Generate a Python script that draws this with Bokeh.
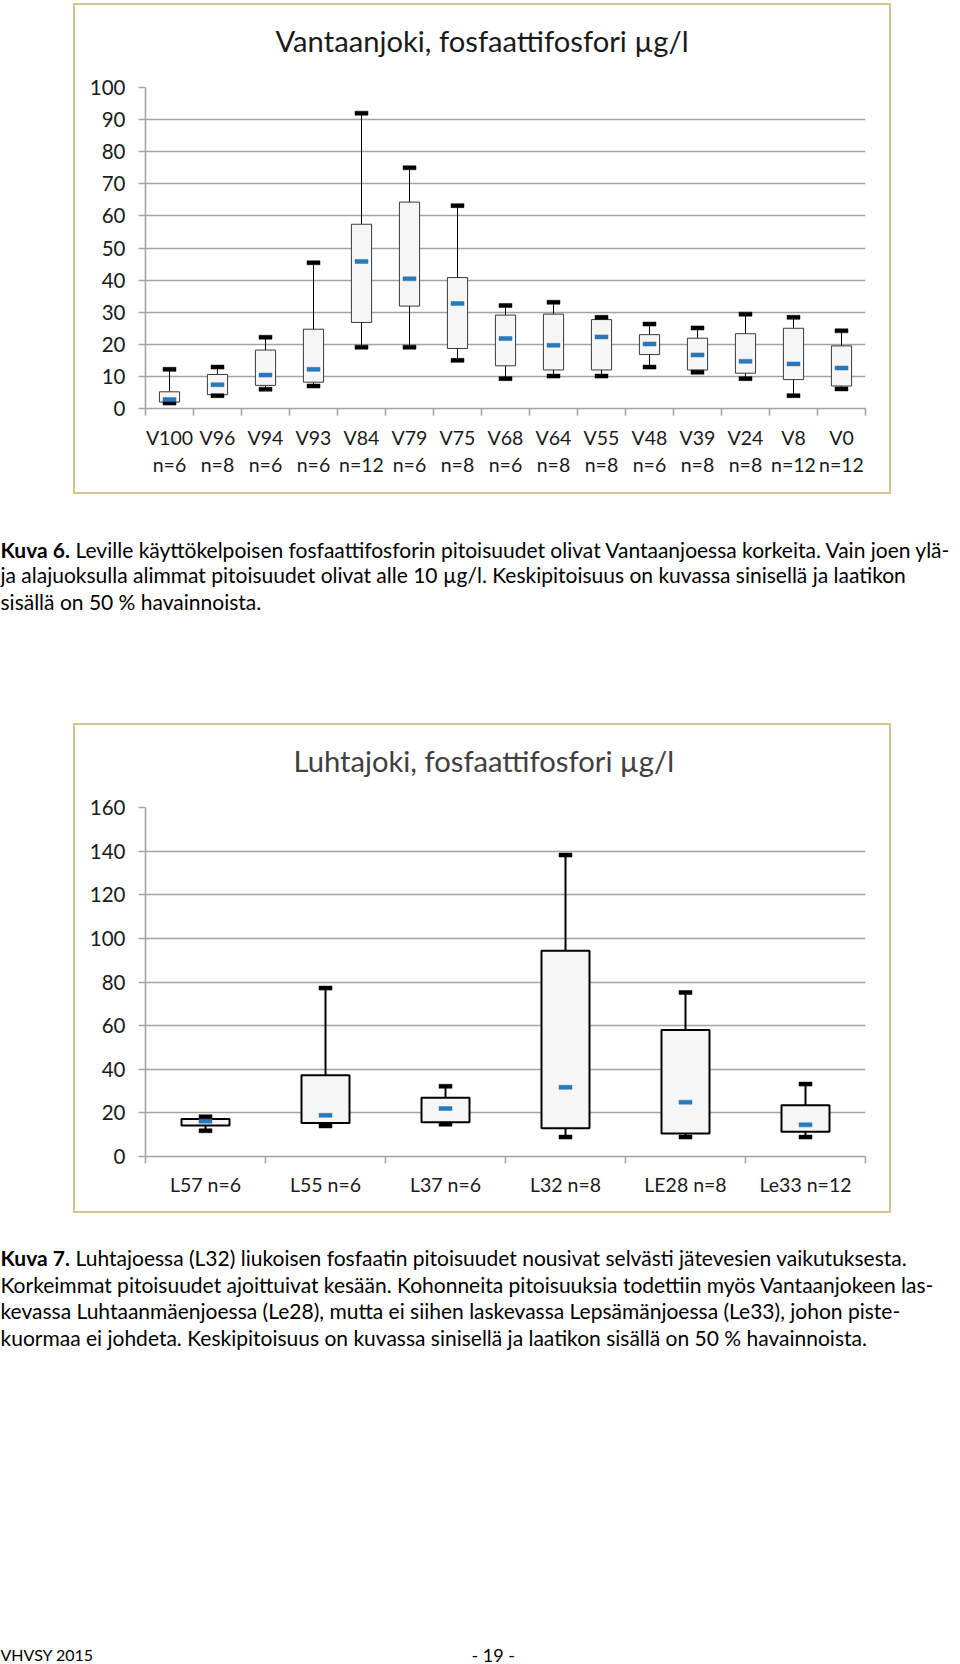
from bokeh.plotting import figure
from bokeh.models import Range1d, FixedTicker, ColumnDataSource, Spacer
from bokeh.layouts import column, row
from bokeh.core.properties import value
from bokeh.embed import file_html
from bokeh.resources import INLINE

FONT = "Lato"

# ---------------- data: Vantaanjoki ----------------
vantaa_sites = ["V100", "V96", "V94", "V93", "V84", "V79", "V75", "V68",
                "V64", "V55", "V48", "V39", "V24", "V8", "V0"]
vantaa_n = [6, 8, 6, 6, 12, 6, 8, 6, 8, 8, 6, 8, 8, 12, 12]
vantaa_min = [1.7, 4.0, 6.0, 7.0, 19.1, 19.1, 15.0, 9.3, 10.1, 10.1, 12.9, 11.3, 9.3, 4.0, 6.1]
vantaa_q1 = [2.0, 4.3, 7.2, 8.2, 26.8, 31.9, 18.7, 13.3, 12.0, 12.0, 16.8, 12.0, 11.0, 9.0, 7.0]
vantaa_mean = [2.8, 7.4, 10.4, 12.2, 45.8, 40.4, 32.7, 21.8, 19.7, 22.3, 20.1, 16.7, 14.7, 13.9, 12.6]
vantaa_q3 = [5.2, 10.6, 18.2, 24.7, 57.4, 64.3, 40.8, 29.1, 29.4, 27.7, 23.0, 21.9, 23.3, 25.0, 19.5]
vantaa_max = [12.2, 12.9, 22.2, 45.4, 92.0, 75.0, 63.2, 32.1, 33.1, 28.4, 26.3, 25.1, 29.4, 28.4, 24.2]
vantaa_yticks = [0, 10, 20, 30, 40, 50, 60, 70, 80, 90, 100]

# ---------------- data: Luhtajoki ----------------
luhta_sites = ["L57", "L55", "L37", "L32", "LE28", "Le33"]
luhta_n = [6, 6, 6, 8, 8, 12]
luhta_min = [11.8, 14.0, 14.8, 8.9, 8.9, 8.9]
luhta_q1 = [14.2, 15.4, 15.7, 12.9, 10.6, 11.4]
luhta_mean = [16.2, 18.9, 22.0, 31.7, 24.9, 14.5]
luhta_q3 = [17.2, 37.2, 26.9, 94.3, 58.0, 23.5]
luhta_max = [18.2, 77.2, 32.2, 138.2, 75.2, 33.2]
luhta_yticks = [0, 20, 40, 60, 80, 100, 120, 140, 160]

# ---------------- texts ----------------
title_vantaa = "Vantaanjoki, fosfaattifosfori µg/l"
title_luhta = "Luhtajoki, fosfaattifosfori µg/l"

caption6_bold = "Kuva 6."
caption6_lines = [
    "Leville käyttökelpoisen fosfaattifosforin pitoisuudet olivat Vantaanjoessa korkeita. Vain joen ylä-",
    "ja alajuoksulla alimmat pitoisuudet olivat alle 10 µg/l. Keskipitoisuus on kuvassa sinisellä ja laatikon",
    "sisällä on 50 % havainnoista.",
]
caption7_bold = "Kuva 7."
caption7_lines = [
    "Luhtajoessa (L32) liukoisen fosfaatin pitoisuudet nousivat selvästi jätevesien vaikutuksesta.",
    "Korkeimmat pitoisuudet ajoittuivat kesään. Kohonneita pitoisuuksia todettiin myös Vantaanjokeen las-",
    "kevassa Luhtaanmäenjoessa (Le28), mutta ei siihen laskevassa Lepsämänjoessa (Le33), johon piste-",
    "kuormaa ei johdeta. Keskipitoisuus on kuvassa sinisellä ja laatikon sisällä on 50 % havainnoista.",
]
footer_left = "VHVSY 2015"
footer_page = "- 19 -"

GRID = "#a3a3a3"
MEAN = "#2b78b8"
BORDER = "#d6c48f"
MB_LEFT = 70
MB_RIGHT = 24
CHART_W = 814


def box_chart(labels, mins, q1s, means, q3s, maxs, yticks,
              height, mb_top, mb_bottom, heavy, label_standoff, label_lh):
    n = len(labels)
    centers = [i + 0.5 for i in range(n)]
    src = ColumnDataSource(dict(x=centers, lo=mins, q1=q1s, mean=means, q3=q3s, hi=maxs))
    p = figure(width=CHART_W, height=height, output_backend="svg", toolbar_location=None,
               tools="", title=None, x_range=Range1d(0, n),
               y_range=Range1d(yticks[0], yticks[-1]),
               min_border_left=MB_LEFT, min_border_right=MB_RIGHT, min_border_top=mb_top,
               min_border_bottom=mb_bottom)
    p.outline_line_color = None
    p.background_fill_color = "white"
    p.border_fill_color = "white"

    p.xgrid.visible = False
    p.ygrid.ticker = FixedTicker(ticks=yticks)
    p.ygrid.grid_line_color = GRID
    p.ygrid.grid_line_width = 1.6

    xa = p.xaxis[0]
    xa.ticker = FixedTicker(ticks=centers, minor_ticks=list(range(n + 1)))
    xa.major_label_overrides = {c: lab for c, lab in zip(centers, labels)}
    xa.major_tick_out = 0
    xa.major_tick_in = 0
    xa.minor_tick_out = 7
    xa.minor_tick_in = 0
    xa.minor_tick_line_color = GRID
    xa.minor_tick_line_width = 1.6
    xa.axis_line_color = GRID
    xa.axis_line_width = 1.6
    xa.major_label_text_font = FONT
    xa.major_label_text_font_size = "19.5px"
    xa.major_label_text_color = "#1a1a1a"
    xa.major_label_text_line_height = label_lh
    xa.major_label_standoff = label_standoff

    ya = p.yaxis[0]
    ya.ticker = FixedTicker(ticks=yticks)
    ya.major_tick_out = 7
    ya.major_tick_in = 0
    ya.minor_tick_out = 0
    ya.minor_tick_in = 0
    ya.major_tick_line_color = GRID
    ya.major_tick_line_width = 1.6
    ya.axis_line_color = GRID
    ya.axis_line_width = 1.6
    ya.major_label_text_font = FONT
    ya.major_label_text_font_size = "20.5px"
    ya.major_label_text_color = "#1a1a1a"
    ya.major_label_standoff = 13

    lw = 2 if heavy else 1
    box_line = "black" if heavy else "#3a3a3a"
    p.segment(x0="x", y0="q3", x1="x", y1="hi", source=src, line_color="black", line_width=lw)
    p.segment(x0="x", y0="lo", x1="x", y1="q1", source=src, line_color="black", line_width=lw)
    p.vbar(x="x", bottom="q1", top="q3", width=0.42 if not heavy else 0.40, source=src,
           fill_color="#f6f6f6", line_color=box_line, line_width=lw)
    p.rect(x="x", y="hi", width=13, height=4, width_units="screen", height_units="screen",
           source=src, fill_color="black", line_color="black", line_width=0.5)
    p.rect(x="x", y="lo", width=13, height=4, width_units="screen", height_units="screen",
           source=src, fill_color="black", line_color="black", line_width=0.5)
    p.rect(x="x", y="mean", width=13, height=4, width_units="screen", height_units="screen",
           source=src, fill_color=MEAN, line_color=MEAN, line_width=0.5)
    return p


def text_panel(width, height, items, mb_left=0, mb_right=0):
    # data coordinates equal canvas pixels (frame from mb_left to width - mb_right)
    p = figure(width=width, height=height, output_backend="svg", toolbar_location=None,
               tools="", x_range=Range1d(mb_left, width - mb_right),
               y_range=Range1d(height, 0),
               x_axis_location=None, y_axis_location=None, min_border=0,
               min_border_left=mb_left, min_border_right=mb_right)
    p.grid.visible = False
    p.outline_line_color = None
    p.background_fill_color = "white"
    p.border_fill_color = "white"
    for (xs, ys, texts, size, style, color) in items:
        src = ColumnDataSource(dict(x=xs, y=ys, t=texts))
        p.text(x="x", y="y", text="t", source=src, text_font=value(FONT),
               text_font_size=size, text_font_style=style, text_color=color,
               text_baseline="middle", text_align="left")
    return p


def framed(title_fig, chart_fig, w, h):
    def bar(bw, bh):
        return Spacer(width=bw, height=bh, styles={"background-color": BORDER})
    inner = row(bar(2, h), column(title_fig, chart_fig, spacing=0), bar(2, h), spacing=0)
    return row(Spacer(width=73, height=h + 4),
               column(bar(w + 4, 2), inner, bar(w + 4, 2), spacing=0), spacing=0)


vantaa_labels = [f"{s}\nn={k}" for s, k in zip(vantaa_sites, vantaa_n)]
luhta_labels = [f"{s} n={k}" for s, k in zip(luhta_sites, luhta_n)]

TITLE_H = 62
head1 = text_panel(CHART_W, TITLE_H,
                   [([200], [35], [title_vantaa], "29.2px", "normal", "#1a1a1a")],
                   mb_left=MB_LEFT, mb_right=MB_RIGHT)
chart1 = box_chart(vantaa_labels, vantaa_min, vantaa_q1, vantaa_mean,
                   vantaa_q3, vantaa_max, vantaa_yticks, height=487 - TITLE_H, mb_top=20,
                   mb_bottom=84, heavy=False, label_standoff=10, label_lh=1.2)
head2 = text_panel(CHART_W, TITLE_H,
                   [([218], [35], [title_luhta], "29.2px", "normal", "#404040")],
                   mb_left=MB_LEFT, mb_right=MB_RIGHT)
chart2 = box_chart(luhta_labels, luhta_min, luhta_q1, luhta_mean,
                   luhta_q3, luhta_max, luhta_yticks, height=486 - TITLE_H, mb_top=20,
                   mb_bottom=55, heavy=True, label_standoff=9, label_lh=1.2)

cap6_y = [55, 80, 107]
cap7_y = [44, 71, 97, 124]
text1 = text_panel(960, 229, [
    ([0], [cap6_y[0]], [caption6_bold], "21px", "bold", "black"),
    ([75, 0, 0], cap6_y, caption6_lines, "21px", "normal", "black"),
])
text2 = text_panel(960, 451, [
    ([0], [cap7_y[0]], [caption7_bold], "21px", "bold", "black"),
    ([75, 0, 0, 0], cap7_y, caption7_lines, "21px", "normal", "black"),
    ([0], [441], [footer_left], "16px", "normal", "black"),
    ([471], [441], [footer_page], "18px", "normal", "black"),
])

layout = column(
    Spacer(height=3, width=960),
    framed(head1, chart1, CHART_W, 487),
    text1,
    framed(head2, chart2, CHART_W, 486),
    text2,
    spacing=0,
)

open("out.html", "w").write(file_html(layout, INLINE))
